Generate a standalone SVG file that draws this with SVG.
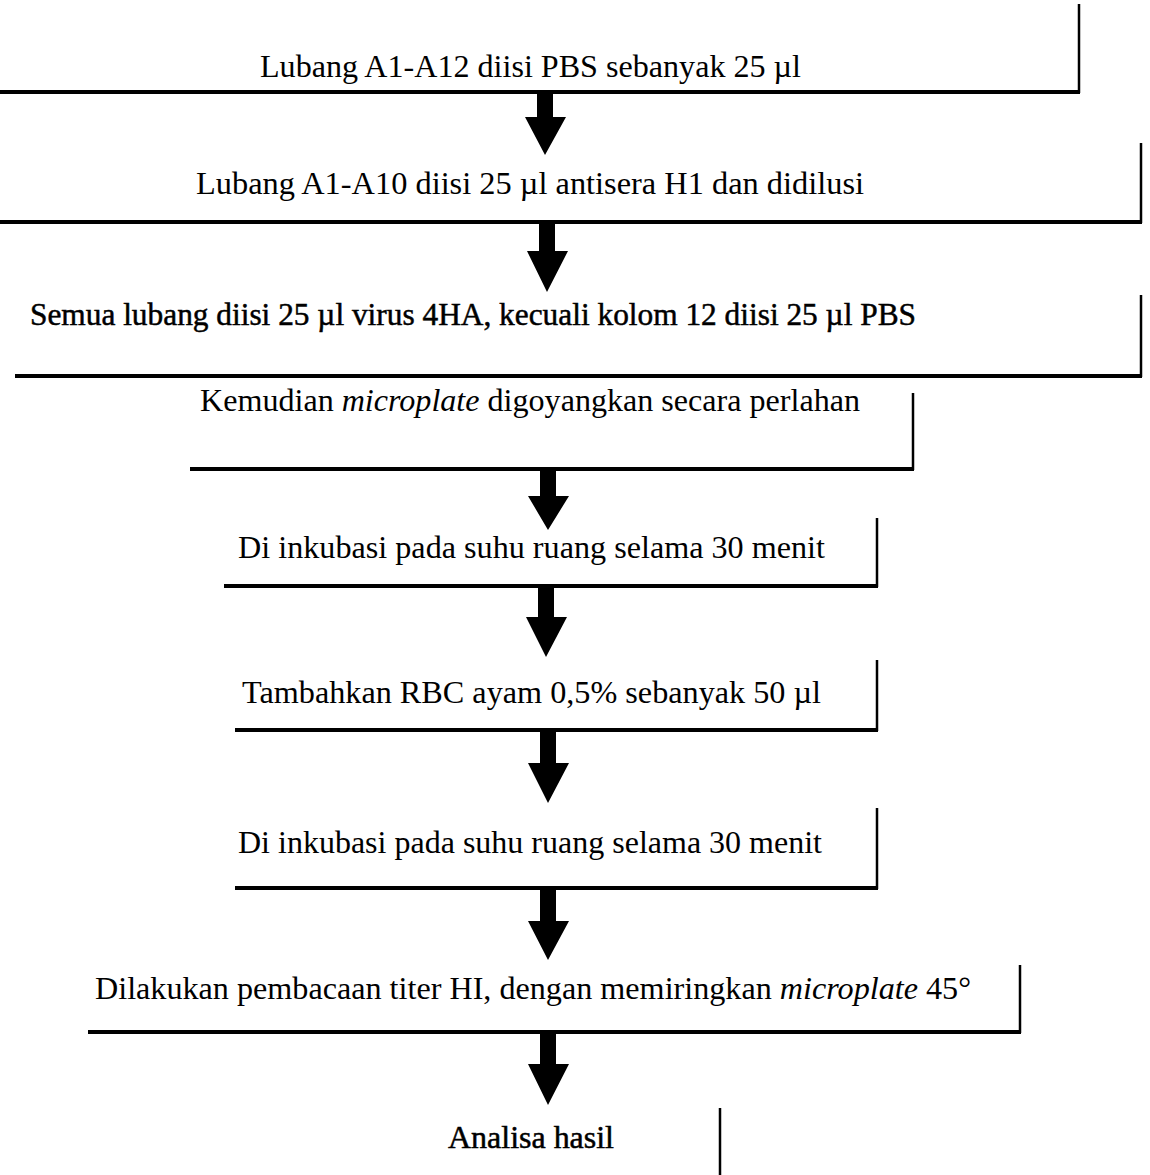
<svg xmlns="http://www.w3.org/2000/svg" width="1150" height="1175" viewBox="0 0 1150 1175">
<style>
  .bg{fill:#ffffff}
  .ln{stroke:#000;stroke-width:2.5;fill:none}
  .bl{stroke:#000;stroke-width:4;fill:none}
  .t{font-family:"Liberation Serif","Times New Roman",serif;font-size:32px;fill:#000}
  .hv{stroke:#000;stroke-width:0.5}
  .it{font-style:italic}
  .arr{fill:#000}
</style>
<rect class="bg" x="0" y="0" width="1150" height="1175"/>
<g id="connectors">
  <path class="arr" d="M537,94 H553 V117 H566 L545,155 L525,117 H537 Z"/>
  <path class="arr" d="M539,224 H555 V251 H568 L547,292 L527,251 H539 Z"/>
  <path class="arr" d="M540,471 H556 V496 H569 L548,530 L528,496 H540 Z"/>
  <path class="arr" d="M538,588 H554 V617 H567 L546,657 L526,617 H538 Z"/>
  <path class="arr" d="M540,732 H556 V763 H569 L548,803 L528,763 H540 Z"/>
  <path class="arr" d="M540,890 H556 V921 H569 L548,960 L528,921 H540 Z"/>
  <path class="arr" d="M540,1034 H556 V1064 H569 L548,1105 L528,1064 H540 Z"/>
</g>
<g id="node1">
  <path class="ln" d="M1079,4 V93"/>
  <path class="bl" d="M0,92 H1080"/>
  <text class="t" x="260" y="77" textLength="541" lengthAdjust="spacingAndGlyphs">Lubang A1-A12 diisi PBS sebanyak 25 µl</text>
</g>
<g id="node2">
  <path class="ln" d="M1141,143 V223"/>
  <path class="bl" d="M0,222 H1142"/>
  <text class="t" x="196" y="194" textLength="668" lengthAdjust="spacingAndGlyphs">Lubang A1-A10 diisi 25 µl antisera H1 dan didilusi</text>
</g>
<g id="node3">
  <path class="ln" d="M1141,295 V377"/>
  <path class="bl" d="M15,376 H1142"/>
  <text class="t hv" x="30" y="325" textLength="886" lengthAdjust="spacingAndGlyphs">Semua lubang diisi 25 µl virus 4HA, kecuali kolom 12 diisi 25 µl PBS</text>
</g>
<g id="node4">
  <path class="ln" d="M913,393 V470"/>
  <path class="bl" d="M190,469 H914"/>
  <text class="t" x="200" y="411" textLength="660" lengthAdjust="spacingAndGlyphs">Kemudian <tspan class="it">microplate</tspan> digoyangkan secara perlahan</text>
</g>
<g id="node5">
  <path class="ln" d="M877,518 V587"/>
  <path class="bl" d="M224,586 H878"/>
  <text class="t" x="238" y="558" textLength="587" lengthAdjust="spacingAndGlyphs">Di inkubasi pada suhu ruang selama 30 menit</text>
</g>
<g id="node6">
  <path class="ln" d="M877,660 V731"/>
  <path class="bl" d="M235,730 H878"/>
  <text class="t" x="242" y="703" textLength="579" lengthAdjust="spacingAndGlyphs">Tambahkan RBC ayam 0,5% sebanyak 50 µl</text>
</g>
<g id="node7">
  <path class="ln" d="M877,808 V889"/>
  <path class="bl" d="M235,888 H878"/>
  <text class="t" x="238" y="853" textLength="584" lengthAdjust="spacingAndGlyphs">Di inkubasi pada suhu ruang selama 30 menit</text>
</g>
<g id="node8">
  <path class="ln" d="M1020,965 V1033"/>
  <path class="bl" d="M88,1032 H1021"/>
  <text class="t" x="95" y="999" textLength="876" lengthAdjust="spacingAndGlyphs">Dilakukan pembacaan titer HI, dengan memiringkan <tspan class="it">microplate</tspan> 45°</text>
</g>
<g id="node9">
  <path class="ln" d="M720,1108 V1175"/>
  <text class="t hv" x="448" y="1148" textLength="166" lengthAdjust="spacingAndGlyphs">Analisa hasil</text>
</g>
</svg>
